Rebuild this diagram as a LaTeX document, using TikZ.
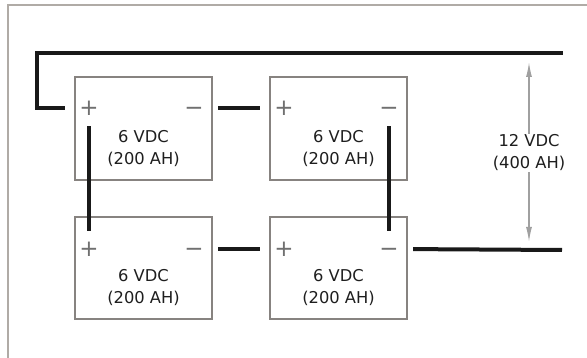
\documentclass[tikz,border=0pt]{standalone}
\usepackage{fontspec}
\setmainfont{DejaVu Sans}
\usetikzlibrary{arrows.meta,calc}
\definecolor{framec}{HTML}{B0ABA6}
\definecolor{boxc}{HTML}{878380}
\definecolor{signc}{HTML}{707070}
\definecolor{arrc}{HTML}{A0A0A0}
\definecolor{txtc}{HTML}{1E1E1E}
\tikzset{
  batt/.style={draw=boxc, line width=1.8pt, minimum width=137pt, minimum height=103pt, inner sep=0pt},
  sign/.style={text=signc, minimum width=48pt, minimum height=36pt, inner sep=0pt, font=\fontsize{23}{23}\selectfont},
  lbl/.style={text=txtc, align=center, inner sep=1pt, font=\fontsize{16.3}{22}\selectfont},
  wire/.style={line width=4pt, draw=black!90},
  dim/.style={draw=arrc, line width=1.4pt, {Latex[length=15pt,width=6pt]}-{Latex[length=15pt,width=6pt]}},
  frame/.style={draw=framec, line width=2pt}
}
\newcommand{\plusterm}{+}
\newcommand{\minusterm}{\vphantom{+}−}
\begin{document}
\begin{tikzpicture}[x=1pt,y=-1pt]
\useasboundingbox (0,0) rectangle (587,358);
\draw[frame] (8,358) -- (8,5.5) -- (587,5.5);
% batteries
\node[batt] (b1) at (143.5,128.5) {};
\node[batt] (b2) at (338.5,128.5) {};
\node[batt, minimum height=102pt] (b3) at (143.5,268) {};
\node[batt, minimum height=102pt] (b4) at (338.5,268) {};
% labels
\node[lbl] (t1) at ($(b1.center)+(0,20.5)$) {6 VDC\\(200 AH)};
\node[lbl] (t2) at ($(b2.center)+(0,20.5)$) {6 VDC\\(200 AH)};
\node[lbl] (t3) at ($(b3.center)+(0,19.5)$) {6 VDC\\(200 AH)};
\node[lbl] (t4) at ($(b4.center)+(0,19.5)$) {6 VDC\\(200 AH)};
% terminals
\node[sign] (p1) at ($(b1.north west)+(15,32)$) {\plusterm};
\node[sign] (m1) at ($(b1.north east)+(-19,32)$) {\minusterm};
\node[sign] (p2) at ($(b2.north west)+(15,32)$) {\plusterm};
\node[sign] (m2) at ($(b2.north east)+(-19,32)$) {\minusterm};
\node[sign] (p3) at ($(b3.north west)+(15,33)$) {\plusterm};
\node[sign] (m3) at ($(b3.north east)+(-19,33)$) {\minusterm};
\node[sign] (p4) at ($(b4.north west)+(15,33)$) {\plusterm};
\node[sign] (m4) at ($(b4.north east)+(-19,33)$) {\minusterm};
% wires
\coordinate (tl) at (37,53);
\coordinate (tr) at (563,53);
\coordinate (br) at (562,250);
\draw[wire] (p1.west) -| (tl) -- (tr);
\draw[wire] (m1.east) -- (p2.west);
\draw[wire] (m3.east) -- (p4.west);
\draw[wire] (m4.east) -- (br);
\draw[wire] (p1.south) -- (p3.north);
\draw[wire] (m2.south) -- (m4.north);
% dimension
\coordinate (at) at (529,62);
\coordinate (ab) at (529,242);
\draw[dim] (ab) -- (at);
\node[lbl, fill=white] (v) at (529,153) {12 VDC\\(400 AH)};
\end{tikzpicture}
\end{document}
